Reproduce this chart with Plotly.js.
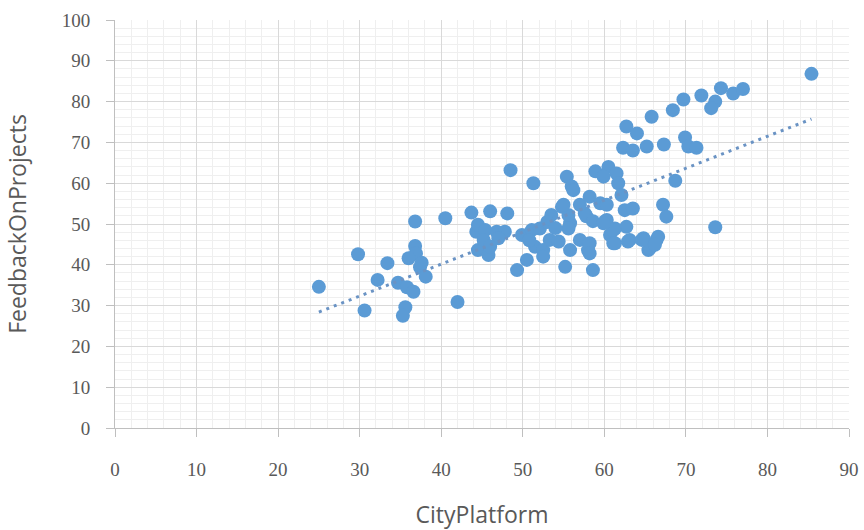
<!DOCTYPE html>
<html>
<head>
<meta charset="utf-8">
<script src="https://cdn.plot.ly/plotly-3.0.1.min.js"></script>
<style>
  html, body { margin: 0; padding: 0; background: #ffffff; }
  #chart { width: 864px; height: 530px; }
</style>
</head>
<body>
<div id="chart"></div>
<script>
// CityPlatform score vs. FeedbackOnProjects score, one point per respondent
const cityPlatform = [
  25.0, 29.8, 30.6, 32.2, 33.4, 34.7, 35.8, 36.6, 35.6, 35.3,
  36.8, 36.8, 36.9, 36.0, 37.4, 38.1, 37.6, 40.5, 42.0, 43.7,
  44.3, 44.5, 48.5, 51.3, 46.0, 48.1, 44.5, 45.4, 46.8, 47.8,
  45.8, 45.2, 49.3, 50.5, 49.9, 51.1, 52.1, 51.5, 52.5, 52.5,
  53.5, 53.3, 54.4, 55.2, 55.8, 54.8, 55.4, 56.0, 55.8, 55.6,
  57.0, 57.6, 58.0, 58.6, 58.9, 57.0, 58.2, 59.5, 60.3, 60.7,
  61.1, 60.5, 61.5, 61.7, 62.1, 62.5, 63.5, 62.7, 63.1, 64.8,
  65.4, 66.4, 67.2, 67.6, 56.2, 55.0, 60.3, 57.8, 55.6, 58.6,
  60.1, 61.3, 58.2, 61.3, 62.9, 58.2, 65.6, 59.9, 53.0, 54.0,
  50.8, 47.0, 46.0, 85.4, 74.3, 75.8, 77.0, 71.9, 69.7, 68.4,
  65.8, 73.6, 73.1, 62.7, 64.0, 62.3, 63.5, 65.2, 67.3, 69.9,
  70.3, 71.3, 68.7, 73.6, 66.6, 66.2, 64.6, 61.1, 59.9
];
const feedbackOnProjects = [
  34.6, 42.6, 28.8, 36.3, 40.4, 35.6, 34.5, 33.4, 29.6, 27.5,
  50.6, 44.6, 42.8, 41.6, 39.4, 37.1, 40.5, 51.4, 30.9, 52.8,
  48.1, 43.6, 63.2, 60.0, 53.1, 52.6, 49.8, 48.5, 48.1, 48.1,
  42.4, 46.1, 38.7, 41.2, 47.3, 48.5, 48.9, 44.4, 43.6, 42.0,
  52.2, 46.1, 45.7, 39.5, 43.6, 54.2, 61.6, 59.2, 50.2, 52.2,
  46.1, 52.6, 43.6, 38.7, 62.9, 54.7, 56.7, 55.1, 51.0, 47.3,
  45.3, 64.0, 62.4, 60.0, 57.1, 53.4, 53.8, 49.3, 46.1, 46.5,
  43.6, 46.1, 54.7, 51.8, 58.3, 54.7, 54.7, 51.9, 48.9, 50.7,
  50.7, 48.9, 45.3, 45.3, 45.7, 42.8, 44.1, 61.6, 50.5, 49.0,
  46.0, 46.5, 44.5, 86.8, 83.3, 82.0, 83.1, 81.5, 80.5, 77.9,
  76.3, 80.0, 78.4, 73.9, 72.2, 68.7, 68.0, 69.0, 69.5, 71.2,
  69.0, 68.7, 60.6, 49.2, 46.9, 44.9, 46.1, 48.5, 50.2
];
const xTickValues = [0, 10, 20, 30, 40, 50, 60, 70, 80, 90];
const yTickValues = [0, 10, 20, 30, 40, 50, 60, 70, 80, 90, 100];

// Ordinary least-squares fit, drawn across the observed x range
function linearFit(xs, ys) {
  const n = xs.length;
  const mx = xs.reduce((a, b) => a + b, 0) / n;
  const my = ys.reduce((a, b) => a + b, 0) / n;
  let sxy = 0, sxx = 0;
  for (let i = 0; i < n; i++) {
    sxy += (xs[i] - mx) * (ys[i] - my);
    sxx += (xs[i] - mx) * (xs[i] - mx);
  }
  const slope = sxy / sxx;
  return { slope, intercept: my - slope * mx };
}
const fit = linearFit(cityPlatform, feedbackOnProjects);
const xMin = Math.min(...cityPlatform);
const xMax = Math.max(...cityPlatform);
const trendX = [xMin, xMax];
const trendY = trendX.map(x => fit.intercept + fit.slope * x);

const tickFont = { family: 'Liberation Serif, serif', size: 19, color: '#595959' };
const titleFont = { family: 'Open Sans, Lato, sans-serif', size: 23, color: '#595959' };

const traces = [
  {
    type: 'scatter', mode: 'markers',
    x: cityPlatform, y: feedbackOnProjects,
    marker: { color: '#5b9bd5', size: 14, line: { width: 0 } },
    hoverinfo: 'x+y'
  },
  {
    type: 'scatter', mode: 'lines',
    x: trendX, y: trendY,
    line: { color: '#6a93c4', width: 3, dash: '3px,5px' },
    hoverinfo: 'skip'
  }
];

const layout = {
  width: 864, height: 530,
  margin: { l: 115, r: 15, t: 20, b: 102 },
  paper_bgcolor: '#ffffff', plot_bgcolor: '#ffffff',
  showlegend: false,
  xaxis: {
    range: [0, 90], tickvals: xTickValues, ticktext: xTickValues.map(String),
    showgrid: true, gridcolor: '#d9d9d9', gridwidth: 1,
    minor: { dtick: 2, showgrid: true, gridcolor: '#efefef', gridwidth: 1 },
    zeroline: false, showline: true, linecolor: '#bfbfbf', linewidth: 1,
    ticks: 'outside', ticklen: 8, tickcolor: '#bfbfbf', tickwidth: 1,
    ticklabelstandoff: 16,
    tickfont: tickFont,
    automargin: false,
    title: { text: 'CityPlatform', font: titleFont, standoff: 32 }
  },
  yaxis: {
    range: [0, 100], tickvals: yTickValues, ticktext: yTickValues.map(String),
    showgrid: true, gridcolor: '#d9d9d9', gridwidth: 1,
    minor: { dtick: 2, showgrid: true, gridcolor: '#efefef', gridwidth: 1 },
    zeroline: false, showline: true, linecolor: '#bfbfbf', linewidth: 1,
    ticks: 'outside', ticklen: 8, tickcolor: '#bfbfbf', tickwidth: 1,
    ticklabelstandoff: 12,
    tickfont: tickFont,
    automargin: false,
    title: { text: 'FeedbackOnProjects', font: titleFont, standoff: 28 }
  }
};

Plotly.newPlot('chart', traces, layout, { displayModeBar: false, staticPlot: true });
</script>
</body>
</html>
